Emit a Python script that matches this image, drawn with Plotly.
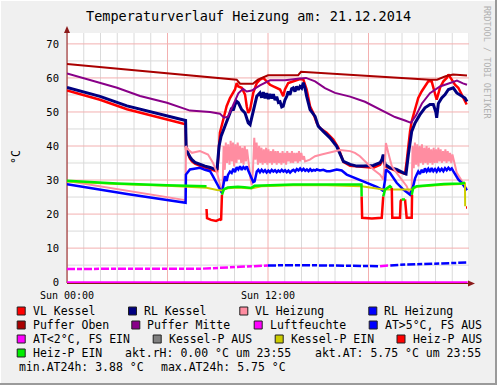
import plotly.graph_objects as go

# ---------------- data (time in hours since Sun 00:00) ----------------
title_text = "Temperaturverlauf Heizung am: 21.12.2014"
x_tick_vals = [0, 12]
x_tick_text = ["Sun 00:00", "Sun 12:00"]
y_tick_vals = [0, 10, 20, 30, 40, 50, 60, 70]

vl_kessel_t = [0, 1.97, 3.58, 5.97, 7.08, 7.11, 7.22, 7.34, 7.46, 7.64, 7.94, 8.24, 8.54, 8.84, 8.96,
               9.01, 9.13, 9.33, 9.53, 9.73, 9.93, 10.03, 10.13, 10.23, 10.43, 10.63, 10.73, 10.82, 10.93,
               11.12, 11.33, 11.52, 11.72, 11.92, 12.12, 12.32, 12.72, 12.91, 13.01, 13.21, 13.51, 13.91,
               14.11, 14.31, 14.51, 14.70, 14.91, 15.10, 15.50, 15.90, 16.20, 16.50, 16.90, 17.69, 18.29,
               18.69, 18.80, 18.88, 18.99, 19.68, 20.18, 20.28, 20.38, 20.48, 20.58, 20.78, 20.97, 21.18,
               21.37, 21.57, 21.77, 21.97, 22.07, 22.27, 22.47, 22.67, 22.77, 22.97, 23.16, 23.36, 23.56,
               23.76, 23.86]
vl_kessel_v = [56.3, 53.6, 50.8, 47.9, 46.4, 39.0, 37.5, 36.3, 35.5, 34.8, 34.2, 33.6, 33.2, 32.7, 32.5,
               35.0, 43.9, 47.8, 51.7, 54.1, 55.6, 56.6, 58.5, 57.5, 57.1, 55.1, 51.7, 49.7, 50.7,
               55.6, 58.5, 59.5, 60.0, 59.0, 58.0, 57.5, 56.6, 54.6, 56.6, 58.5, 59.0, 59.7,
               59.5, 56.6, 51.7, 49.7, 46.8, 45.3, 43.9, 41.9, 39.5, 35.3, 34.2, 33.8, 33.6,
               34.5, 35.5, 37.0, 34.0, 32.6, 31.8, 35.5, 40.4, 44.3, 47.3, 51.2, 54.1, 56.1,
               57.5, 59.0, 59.0, 55.6, 53.6, 57.1, 59.0, 60.0, 61.0, 59.5, 58.0, 57.1, 55.1,
               53.1, 52.2]

rl_kessel_t = [0, 1.97, 3.58, 5.97, 7.08, 7.11, 7.22, 7.34, 7.46, 7.64, 7.94, 8.24, 8.54, 8.84, 8.96,
               9.01, 9.08, 9.20, 9.43, 9.53, 9.61, 9.73, 9.83, 9.93, 10.03, 10.13, 10.23, 10.43, 10.63,
               10.82, 10.93, 11.12, 11.33, 11.52, 11.62, 11.72, 11.82, 11.92, 12.02, 12.12, 12.22, 12.32,
               12.42, 12.52, 12.62, 12.72, 12.82, 12.91, 13.01, 13.12, 13.21, 13.31, 13.41, 13.51, 13.61,
               13.71, 13.81, 13.91, 14.01, 14.11, 14.21, 14.31, 14.51, 14.81, 15.00, 15.30, 15.70, 16.10,
               16.30, 16.50, 16.90, 17.30, 17.69, 18.29, 18.69, 18.80, 18.88, 18.99, 19.28, 19.68, 20.08,
               20.24, 20.38, 20.48, 20.58, 20.78, 21.07, 21.37, 21.67, 21.87, 22.02, 22.07, 22.17, 22.37,
               22.57, 22.77, 23.06, 23.27, 23.56, 23.76, 23.88]
rl_kessel_v = [57.2, 54.6, 51.8, 48.9, 47.5, 40.0, 38.0, 36.8, 36.0, 35.2, 34.6, 34.1, 33.7, 33.1, 33.3,
               36.0, 40.0, 42.9, 45.8, 46.8, 48.3, 49.7, 51.2, 50.5, 52.2, 53.1, 52.7, 50.7, 49.7,
               46.8, 46.3, 50.7, 54.6, 55.6, 54.2, 55.8, 54.0, 55.5, 53.8, 55.3, 54.0, 55.2,
               53.5, 54.5, 52.8, 53.0, 51.5, 51.7, 53.5, 54.6, 56.0, 55.0, 56.8, 57.1, 56.0,
               57.5, 56.5, 57.5, 57.0, 58.6, 57.0, 54.6, 50.7, 48.7, 45.8, 44.3, 42.4, 39.9,
               37.5, 35.5, 34.6, 34.1, 34.1, 34.3, 35.1, 36.0, 37.5, 34.6, 33.6, 33.1, 32.1,
               31.8, 37.5, 41.4, 44.3, 46.8, 49.2, 51.2, 52.2, 52.2, 50.0, 48.3, 52.5, 54.1,
               55.1, 56.6, 57.1, 55.6, 54.6, 54.1, 53.1]

vl_heizung_t = [0, 3.58, 7.08, 7.10, 7.22, 7.46, 7.94, 8.42, 8.72, 8.96, 9.13, 9.28,
                9.35, 9.42, 9.48, 9.55, 9.62, 9.70, 9.77, 9.84, 9.91, 9.98, 10.05, 10.12, 10.19, 10.26,
                10.33, 10.40, 10.47, 10.54, 10.61, 10.68, 10.75, 10.85, 10.95, 11.03, 11.10, 11.18, 11.25,
                11.32, 11.40, 11.47, 11.54, 11.61, 11.68, 11.75, 11.82, 11.89, 11.96, 12.03, 12.10, 12.17,
                12.24, 12.31, 12.38, 12.45, 12.52, 12.59, 12.66, 12.73, 12.80, 12.87, 12.94, 13.01, 13.08,
                13.15, 13.22, 13.29, 13.36, 13.43, 13.50, 13.57, 13.64, 13.71, 13.78, 13.85, 13.92, 13.99,
                14.06, 14.15, 14.21, 14.50, 14.81, 15.20, 15.58, 16.00, 16.30, 16.90, 17.19, 17.49, 17.89,
                18.29, 18.69, 18.88, 18.99, 19.04, 19.18, 19.39, 19.68, 19.98, 20.28, 20.48, 20.58,
                20.63, 20.70, 20.77, 20.84, 20.91, 20.98, 21.05, 21.12, 21.19, 21.26, 21.33, 21.40, 21.47,
                21.54, 21.61, 21.68, 21.75, 21.82, 21.89, 21.96, 22.03, 22.10, 22.17, 22.24, 22.31, 22.38,
                22.45, 22.52, 22.59, 22.66, 22.73, 22.80, 22.87, 22.94, 23.01, 23.10, 23.18, 23.27, 23.56,
                23.76, 23.86]
vl_heizung_v = [29.7, 26.8, 24.1, 40.0, 39.0, 38.0, 38.5, 37.5, 35.0, 32.1, 28.2, 25.7,
                40.0, 33.0, 41.0, 35.0, 40.5, 34.5, 41.5, 35.5, 41.0, 34.0, 40.5, 35.0, 41.0, 36.0,
                40.0, 35.0, 39.5, 34.5, 40.0, 35.5, 39.0, 34.0, 30.5, 28.5, 33.0, 42.4, 36.0,
                41.0, 34.5, 40.0, 35.0, 39.5, 34.5, 39.0, 35.0, 39.5, 34.5, 39.0, 35.0, 38.5,
                34.5, 39.0, 35.0, 38.5, 34.5, 38.5, 35.0, 38.0, 34.5, 38.5, 35.0, 38.0, 34.5,
                38.5, 35.5, 38.0, 35.0, 38.5, 35.0, 38.0, 35.5, 38.0, 35.0, 38.5, 35.5, 38.0,
                36.0, 37.0, 35.5, 36.0, 37.0, 37.5, 38.0, 38.5, 38.8, 38.5, 38.0, 37.0, 35.0,
                33.1, 31.6, 30.2, 36.0, 40.9, 38.0, 34.1, 32.1, 30.2, 28.2, 25.7, 28.0,
                40.0, 33.5, 41.0, 34.5, 40.5, 34.0, 40.0, 35.0, 40.5, 34.5, 39.5, 35.0, 40.0,
                34.5, 39.5, 35.0, 39.0, 34.5, 39.5, 35.0, 39.0, 35.0, 39.5, 35.5, 39.0, 35.0,
                38.5, 35.5, 39.0, 35.0, 38.5, 35.5, 38.0, 35.0, 37.5, 35.0, 34.0, 32.1, 29.7,
                28.2, 27.5]

rl_heizung_t = [0, 3.58, 7.08, 7.10, 7.34, 7.94, 8.24, 8.54, 8.72, 9.01, 9.25,
                9.43, 9.53, 9.61, 9.73, 9.83, 9.93, 10.03, 10.13, 10.23, 10.33, 10.43, 10.53, 10.63, 10.73,
                10.82, 10.93, 11.03, 11.12, 11.20, 11.33, 11.42, 11.52, 11.62, 11.72, 11.82, 11.92, 12.02,
                12.12, 12.22, 12.32, 12.42, 12.52, 12.62, 12.72, 12.82, 12.92, 13.02, 13.12, 13.22, 13.32,
                13.42, 13.52, 13.62, 13.72, 13.82, 13.92, 14.02, 14.12, 14.22, 14.32, 14.42, 14.52, 14.62,
                14.72, 14.82, 14.91, 15.10, 15.30, 15.50, 15.70, 16.10, 16.40, 16.70, 17.00, 17.30, 17.59,
                17.89, 18.19, 18.49, 18.79, 18.88, 18.99, 19.04, 19.28, 19.68, 20.08, 20.48, 20.67,
                20.78, 20.88, 20.97, 21.07, 21.18, 21.28, 21.37, 21.47, 21.57, 21.67, 21.77, 21.87, 21.97,
                22.07, 22.17, 22.27, 22.37, 22.47, 22.57, 22.67, 22.77, 22.87, 22.97, 23.06, 23.16, 23.27,
                23.36, 23.56, 23.76, 23.88]
rl_heizung_v = [28.8, 25.9, 23.3, 31.6, 33.1, 33.6, 33.0, 32.6, 31.1, 28.2, 26.2,
                31.1, 29.7, 31.5, 32.5, 32.1, 33.3, 32.3, 33.8, 33.1, 34.0, 33.0, 33.8, 33.3, 34.0,
                32.8, 31.5, 30.2, 29.4, 29.6, 32.5, 33.0, 32.3, 33.0, 32.4, 32.9, 32.2, 32.8,
                32.3, 33.0, 32.5, 32.9, 32.3, 32.8, 32.4, 33.0, 32.5, 32.9, 32.3, 32.8, 32.2,
                32.7, 33.0, 32.5, 33.2, 32.8, 33.4, 32.8, 33.3, 32.7, 33.1, 32.6, 33.2, 32.7,
                33.0, 32.8, 33.1, 32.8, 33.0, 32.6, 32.6, 33.1, 32.8, 31.6, 31.0, 30.4, 30.0,
                29.4, 28.6, 28.0, 27.2, 26.7, 30.0, 33.1, 32.1, 29.2, 27.2, 25.7, 28.2,
                30.5, 31.6, 32.5, 31.8, 33.0, 32.2, 33.4, 32.5, 33.3, 32.4, 33.5, 32.6, 33.2,
                32.5, 33.4, 32.7, 33.3, 32.6, 33.5, 32.9, 33.6, 33.0, 33.4, 32.6, 31.8, 30.6,
                30.2, 29.2, 27.7, 27.0]

puffer_oben_t = [0, 10.13, 10.33, 11.10, 11.40, 12.00, 13.80, 13.97, 21.67, 22.09, 22.60, 23.05, 23.88]
puffer_oben_v = [64.1, 59.5, 58.3, 58.3, 59.5, 60.8, 60.8, 61.8, 59.5, 59.5, 60.5, 61.0, 60.7]

puffer_mitte_t = [0, 1.37, 2.99, 4.36, 5.97, 7.34, 8.54, 9.13, 9.37, 9.61, 9.93, 10.23, 10.51, 10.73,
                  11.03, 11.52, 12.12, 13.01, 13.91, 14.27, 14.81, 15.40, 16.00, 16.90, 17.79, 18.69,
                  19.58, 20.18, 20.54, 20.84, 21.19, 21.67, 22.27, 22.87, 23.28, 23.64, 23.88]
puffer_mitte_v = [61.3, 59.3, 57.1, 54.7, 52.7, 50.4, 50.0, 49.5, 48.3, 48.6, 52.0, 55.5, 56.8, 56.0,
                  56.3, 57.8, 59.3, 59.3, 59.8, 60.0, 59.0, 57.0, 55.6, 54.5, 53.0, 50.7,
                  48.5, 47.5, 46.8, 49.0, 52.5, 55.5, 57.5, 58.5, 59.2, 58.4, 58.0]

luftfeuchte_t = [0, 23.92]
luftfeuchte_v = [0.0, 0.0]

at_hi_t = [12.00, 13.91, 16.90, 18.69, None, 19.30, 19.88, 22.27, 23.92]
at_hi_v = [4.9, 5.0, 4.8, 4.7, None, 4.9, 5.1, 5.5, 5.75]
at_lo_t = [0, 1.97, 4.00, 6.00, 7.94, 9.70, 10.33, 12.00, None, 18.69, 19.00, 19.30]
at_lo_v = [3.88, 3.95, 3.90, 3.95, 3.93, 4.2, 4.5, 4.9, None, 4.7, 4.8, 4.9]

kessel_p_aus_t = []
kessel_p_aus_v = []

kessel_p_ein_t = [0, 2.99, 5.97, 7.94, 8.33, 8.96, 9.25, 9.37, 9.60, 10.20, 11.00, 11.60, 12.50,
                  13.50, 15.50, 17.59, 18.88, 19.50, 20.58, 20.88, 21.50, 22.50, 23.50, 23.76, 23.77]
kessel_p_ein_v = [29.6, 28.8, 28.3, 27.9, 27.7, 27.1, 26.9, 27.2, 27.6, 27.8, 27.5, 28.2, 28.3,
                  28.5, 28.5, 28.2, 27.2, 27.2, 27.2, 28.0, 28.3, 28.6, 28.8, 29.0, 22.3]

heiz_p_aus_t = [8.33, 8.36, 8.60, 8.90, 9.13, 9.20, 9.25, None,
                17.59, 17.62, 18.20, 18.79, 18.88, None,
                19.39, 19.42, 19.88, 19.92, 19.98, None,
                20.18, 20.28, 20.58, 20.60, None,
                23.82, 23.88]
heiz_p_aus_v = [21.5, 18.8, 18.3, 18.0, 18.5, 18.2, 25.7, None,
                25.2, 18.9, 18.7, 18.9, 25.2, None,
                27.7, 18.9, 18.9, 23.8, 24.3, None,
                24.3, 18.9, 18.9, 25.7, None,
                21.9, 21.9]

heiz_p_ein_t = [0, 2.99, 5.97, 7.94, 8.33, None, 9.25, 9.37, 9.60, 10.20, 10.60, 11.00, 11.20, 11.60,
                12.50, 13.50, 14.50, 15.50, 16.50, 17.58, 17.59, None,
                18.88, 18.99, 19.28, 19.39, None, 19.98, 20.18, None,
                20.58, 20.67, 20.88, 21.50, 22.50, 23.50, 23.76]
heiz_p_ein_v = [29.8, 29.0, 28.5, 28.1, 28.2, None, 25.7, 27.3, 27.8, 28.0, 27.9, 27.7, 28.3, 28.4,
                28.5, 28.7, 28.7, 28.7, 28.6, 28.7, 25.2, None,
                25.2, 27.2, 28.2, 27.7, None, 24.3, 24.3, None,
                25.7, 27.7, 28.2, 28.5, 28.8, 29.0, 29.2]

series_names = ["VL Kessel", "RL Kessel", "VL Heizung", "RL Heizung", "Puffer Oben", "Puffer Mitte",
                "Luftfeuchte", "AT>5°C, FS AUS", "AT<2°C, FS EIN", "Kessel-P AUS", "Kessel-P EIN",
                "Heiz-P AUS", "Heiz-P EIN"]
series_t = [vl_kessel_t, rl_kessel_t, vl_heizung_t, rl_heizung_t, puffer_oben_t, puffer_mitte_t,
            luftfeuchte_t, at_hi_t, at_lo_t, kessel_p_aus_t, kessel_p_ein_t, heiz_p_aus_t, heiz_p_ein_t]
series_v = [vl_kessel_v, rl_kessel_v, vl_heizung_v, rl_heizung_v, puffer_oben_v, puffer_mitte_v,
            luftfeuchte_v, at_hi_v, at_lo_v, kessel_p_aus_v, kessel_p_ein_v, heiz_p_aus_v, heiz_p_ein_v]

info_texts = ["akt.rH: 0.00 °C um 23:55", "akt.AT: 5.75 °C um 23:55",
              "min.AT24h: 3.88 °C", "max.AT24h: 5.75 °C"]

# grid positions
x_minor_grid = list(range(0, 25))
x_major_grid = [0, 6, 12, 18]
y_minor_grid = list(range(5, 75, 5))
y_major_grid = [10, 20, 30, 40, 50, 60, 70]

# ---------------- styles ----------------
colors = ["#FF0000", "#000080", "#FF8DA1", "#0000FF", "#AA0000", "#880088",
          "#FF00FF", "#0000FF", "#FF00FF", "#808080", "#CCCC00", "#FF0000", "#00EE00"]
widths = [2.5, 3, 2, 2.5, 2, 2, 2, 2.5, 2.5, 2, 2, 2.5, 2.5]
dashes = ["solid"] * 7 + ["8px,2px,5px,2px", "8px,2px,5px,2px"] + ["solid"] * 4

W, H = 497, 385
L, R, T, B = 67, 28, 33, 102
PW, PH = W - L - R, H - T - B
MONO = "DejaVu Sans Mono"
YMIN, YMAX = -0.25, 73.2


def px(x):
    return (x - L) / PW


def py(y):
    return (H - B - y) / PH


fig = go.Figure()
for name, t, v, c, w, d in zip(series_names, series_t, series_v, colors, widths, dashes):
    fig.add_trace(go.Scatter(x=t, y=v, name=name, mode="lines",
                             line=dict(color=c, width=w, dash=d), showlegend=False,
                             hoverinfo="skip"))

shapes = []
minor_col = "#DADADA"
major_col = "#F3B0B0"
for xv in x_minor_grid:
    if xv not in x_major_grid:
        shapes.append(dict(type="line", xref="x", yref="paper", x0=xv, x1=xv, y0=0, y1=1,
                           line=dict(color=minor_col, width=1), layer="below"))
for yv in y_minor_grid:
    if yv not in y_major_grid:
        shapes.append(dict(type="line", xref="paper", yref="y", x0=0, x1=1, y0=yv, y1=yv,
                           line=dict(color=minor_col, width=1), layer="below"))
for xv in x_major_grid:
    shapes.append(dict(type="line", xref="x", yref="paper", x0=xv, x1=xv, y0=0, y1=1,
                       line=dict(color=major_col, width=1), layer="below"))
for yv in y_major_grid:
    shapes.append(dict(type="line", xref="paper", yref="y", x0=0, x1=1, y0=yv, y1=yv,
                       line=dict(color=major_col, width=1), layer="below"))

axis_col = "#8B1A1A"
# axes lines and arrows
shapes.append(dict(type="line", xref="paper", yref="paper", x0=px(67), x1=px(67), y0=py(283), y1=py(28),
                   line=dict(color=axis_col, width=1), layer="below"))
shapes.append(dict(type="line", xref="paper", yref="paper", x0=px(67), x1=px(473), y0=py(283.5), y1=py(283.5),
                   line=dict(color=axis_col, width=1), layer="below"))
shapes.append(dict(type="path", xref="paper", yref="paper",
                   path=f"M {px(64)} {py(33)} L {px(67)} {py(26)} L {px(70)} {py(33)} Z",
                   fillcolor=axis_col, line=dict(width=0)))
shapes.append(dict(type="path", xref="paper", yref="paper",
                   path=f"M {px(468)} {py(280.5)} L {px(475)} {py(283.5)} L {px(468)} {py(286.5)} Z",
                   fillcolor=axis_col, line=dict(width=0)))
# frame
shapes.append(dict(type="line", xref="paper", yref="paper", x0=px(0), x1=px(497), y0=py(0.5), y1=py(0.5),
                   line=dict(color="#FFFFFF", width=1)))
shapes.append(dict(type="line", xref="paper", yref="paper", x0=px(0.5), x1=px(0.5), y0=py(0), y1=py(385),
                   line=dict(color="#FFFFFF", width=1)))
shapes.append(dict(type="line", xref="paper", yref="paper", x0=px(496), x1=px(496), y0=py(0), y1=py(385),
                   line=dict(color="#9A9A9A", width=2)))
shapes.append(dict(type="line", xref="paper", yref="paper", x0=px(0), x1=px(497), y0=py(384), y1=py(384),
                   line=dict(color="#9A9A9A", width=2)))

annotations = []
annotations.append(dict(text=title_text, xref="paper", yref="paper", x=px(248), y=py(16.5),
                        xanchor="center", yanchor="middle", showarrow=False,
                        font=dict(family=MONO, size=13.5, color="#000000")))
annotations.append(dict(text="°C", xref="paper", yref="paper", x=px(16), y=py(157),
                        xanchor="center", yanchor="middle", showarrow=False, textangle=-90,
                        font=dict(family=MONO, size=11.5, color="#000000")))
annotations.append(dict(text="RRDTOOL / TOBI OETIKER", xref="paper", yref="paper", x=px(487), y=py(63),
                        xanchor="center", yanchor="middle", showarrow=False, textangle=90,
                        font=dict(family=MONO, size=8.5, color="#B0B0B0")))

# legend (RRDtool style, justified rows)
legend_rows = [(311, [(0, 30.7), (1, 142.0), (2, 253.3), (3, 382.3)]),
               (325, [(4, 30.7), (5, 145.3), (6, 267.7), (7, 382.7)]),
               (339, [(8, 30.7), (9, 166.7), (10, 288.7), (11, 410.5)]),
               (353, [(12, 30.7)])]
for yc, items in legend_rows:
    for idx, tx in items:
        sx = tx - 13.5
        shapes.append(dict(type="rect", xref="paper", yref="paper",
                           x0=px(sx), x1=px(sx + 8), y0=py(yc - 4), y1=py(yc + 4),
                           fillcolor=colors[idx], line=dict(color="#202020", width=1)))
        annotations.append(dict(text=series_names[idx], xref="paper", yref="paper", x=px(tx), y=py(yc),
                                xanchor="left", yanchor="middle", showarrow=False,
                                font=dict(family=MONO, size=11.5, color="#000000")))
info_pos = [(122.7, 353), (312.7, 353), (16.7, 367), (158.7, 367)]
for txt, (tx, yc) in zip(info_texts, info_pos):
    annotations.append(dict(text=txt, xref="paper", yref="paper", x=px(tx), y=py(yc),
                            xanchor="left", yanchor="middle", showarrow=False,
                            font=dict(family=MONO, size=11.5, color="#000000")))

fig.update_layout(
    width=W, height=H, margin=dict(l=L, r=R, t=T, b=B, pad=0),
    paper_bgcolor="#F0F0F0", plot_bgcolor="#FFFFFF",
    shapes=shapes, annotations=annotations, showlegend=False,
    xaxis=dict(range=[0, 24], tickmode="array", tickvals=x_tick_vals, ticktext=x_tick_text,
               showgrid=False, zeroline=False, showline=False,
               ticks="", ticklabelstandoff=5,
               tickfont=dict(family=MONO, size=10, color="#000000")),
    yaxis=dict(range=[YMIN, YMAX], tickmode="array", tickvals=y_tick_vals,
               showgrid=False, zeroline=False, showline=False,
               ticks="", ticklabelstandoff=7,
               tickfont=dict(family=MONO, size=10.5, color="#000000")),
)

fig.write_html("out.html", config={"displayModeBar": False, "staticPlot": True},
               post_script="document.body.style.margin='0px';document.body.style.overflow='hidden';")
